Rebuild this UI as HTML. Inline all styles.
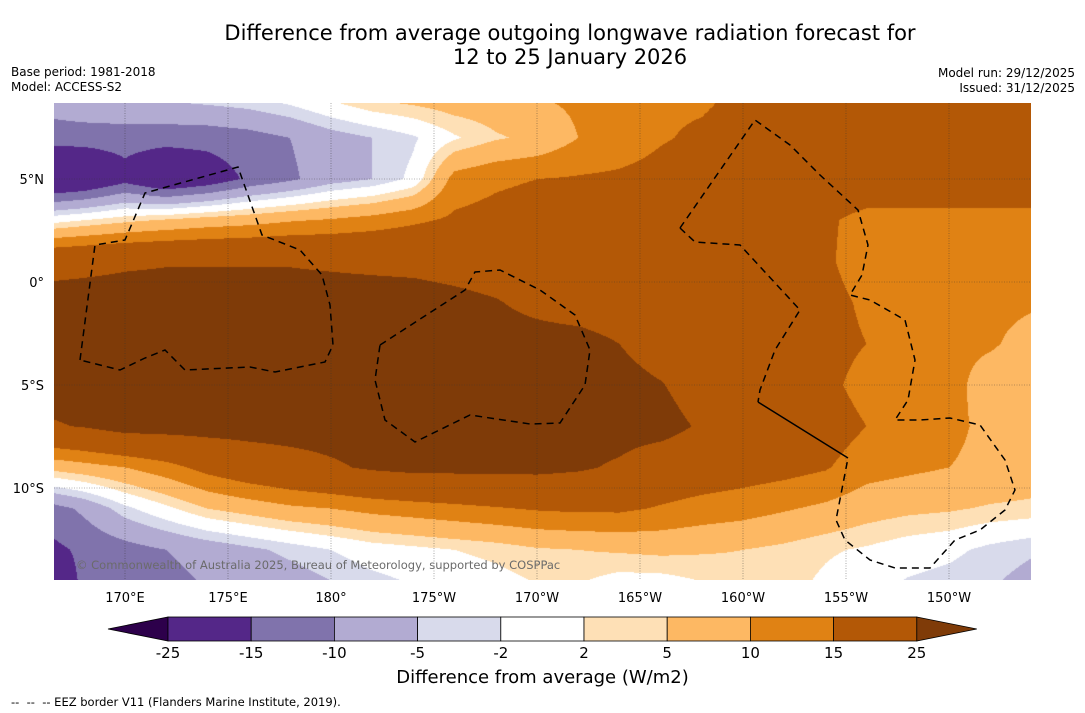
<!DOCTYPE html>
<html><head><meta charset="utf-8">
<style>
body{margin:0;background:#fff;font-family:"DejaVu Sans","Liberation Sans",sans-serif;}
#wrap{position:relative;width:1085px;height:713px;overflow:hidden;background:#fff;}
.t{position:absolute;white-space:pre;color:#000;}
</style></head>
<body>
<div id="wrap">
<div class="t" style="left:0;width:1140px;text-align:center;top:21px;font-size:21px;line-height:24px;">Difference from average outgoing longwave radiation forecast for<br>12 to 25 January 2026</div>
<div class="t" style="left:11px;top:65px;font-size:12px;line-height:15px;">Base period: 1981-2018<br>Model: ACCESS-S2</div>
<div class="t" style="right:10px;top:66px;font-size:12px;line-height:15px;text-align:right;">Model run: 29/12/2025<br>Issued: 31/12/2025</div>
<canvas id="map" width="977" height="477" style="position:absolute;left:54px;top:103px;"></canvas>
<svg id="ov" width="1085" height="713" style="position:absolute;left:0;top:0;"></svg>
<div class="t" style="left:76px;top:558px;font-size:11.5px;color:#6b6b6b;">© Commonwealth of Australia 2025, Bureau of Meteorology, supported by COSPPac</div>
<div class="t" style="left:0;width:1085px;text-align:center;top:667px;font-size:18px;">Difference from average (W/m2)</div>
<div class="t" style="left:11px;top:695px;font-size:11.5px;">--  --  -- EEZ border V11 (Flanders Marine Institute, 2019).</div>
</div>
<script>
// ---- data (W/m2 anomaly on 2-degree grid) ----
const lons = [166,168,170,172,174,176,178,180,182,184,186,188,190,192,194,196,198,200,202,204,206,208,210,212,214];
const lats = [9,7,5,3,1,-1,-3,-5,-7,-9,-11,-13,-15];
const row_lat9  = [-7,-5,-4,-4,-3,-2,0,3,6,7,8,8,10,11,13,14,14,16,17,18,18,18,18,18,18];
const row_lat7  = [-13,-13,-13,-13,-13,-12,-10,-7,-5,-2.5,1.5,4.5,6,10,12,14.5,16,18,18,18,18,18,18,18,18];
const row_lat5  = [-24,-22,-17,-22,-19,-14,-11,-7,-5,-1,12,14,15,15.5,16,17,18,19,20,20,20,20,20,20,20];
const row_lat3  = [0,2,4,5.5,7,8,9.5,10.5,12,14,16,17,18,18,18,18,18,18,18,16,13,13,13,13,13];
const row_lat1  = [22,23,24,24.5,24.5,24.5,24.5,24,23.5,23,22,21,20,19,19,19,19,19,18,16,12,12,12,12,12];
const row_latm1 = [28,28,28,28,28,28,28,28,28,28,27,25.5,23,21,20,19,19,19,18,17,14,12,12,11,10.5];
const row_latm3 = [28,28,28,28,28,28,28,28,28,28,28,28,28,28,25,21,20,19,18,17,15,12,11,10.5,8.5];
const row_latm5 = [28,28,28,28,28,28,28,28,28,28,28,28,28,28,28,25.5,21,19,18,16.5,13,12,11.5,8,7];
const row_latm7 = [24,25.5,28,28,28,28,28,28,28,28,28,28,28,28,28,28,24,20,19,18,15,12,11,9,7];
const row_latm9 = [6,8,10,13,17,20,22,24,26,27,27,27,27,26,24,20,19,18,17,15.5,12,11,10,9,8];
const row_latm11= [-13,-9,-3,1,5,7,9,10,11.5,12.5,13.5,14.5,15.5,16,16,14.5,13,12,10.5,9,7,6,5.5,4.5,4];
const row_latm13= [-17,-14,-12,-10,-8,-6,-4,-2,0,1,2,3,4.5,5,5.5,6,5.5,5,4,2.5,1.5,0,-1,-3,-4.5];
const row_latm15= [-22,-14,-13,-12,-10,-9,-8,-6,-4,-2.5,-1,0,1.5,1.5,-1,-1,1,3,3,1,-1,-3,-4,-5,-7];
const levels = [-25,-15,-10,-5,-2,2,5,10,15,25];
const levelLabels = ["-25","-15","-10","-5","-2","2","5","10","15","25"];
const colors = ["#2d004b","#542788","#8073ac","#b2abd2","#d8daeb","#ffffff","#fee0b6","#fdb863","#e08214","#b35806","#7f3b08"];
const lonTicks = [170,175,180,185,190,195,200,205,210];
const lonTickLabels = ["170°E","175°E","180°","175°W","170°W","165°W","160°W","155°W","150°W"];
const latTicks = [5,0,-5,-10];
const latTickLabels = ["5°N","0°","5°S","10°S"];

const rows = [row_lat9,row_lat7,row_lat5,row_lat3,row_lat1,row_latm1,row_latm3,row_latm5,row_latm7,row_latm9,row_latm11,row_latm13,row_latm15];

// axis functions
const PX = 20.6;
function xScale(lon){return 125+(lon-170)*PX;}
function yScale(lat){return 282-lat*PX;}
function xInv(x){return 170+(x-125)/PX;}
function yInv(y){return (282-y)/PX;}

// draw field
const cv=document.getElementById('map');const ctx=cv.getContext('2d');
const img=ctx.createImageData(977,477);
function hex(c){return [parseInt(c.substr(1,2),16),parseInt(c.substr(3,2),16),parseInt(c.substr(5,2),16)];}
const rgb=colors.map(hex);
const dLon=lons[1]-lons[0], dLat=lats[0]-lats[1];
for(let py=0;py<477;py++){
  const lat=yInv(py+103.5);
  let fy=(lats[0]-lat)/dLat; let j=Math.min(Math.max(Math.floor(fy),0),lats.length-2); let ty=fy-j;
  for(let px=0;px<977;px++){
    const lon=xInv(px+54.5);
    let fx=(lon-lons[0])/dLon; let i=Math.min(Math.max(Math.floor(fx),0),lons.length-2); let tx=fx-i;
    const v=(1-ty)*((1-tx)*rows[j][i]+tx*rows[j][i+1])+ty*((1-tx)*rows[j+1][i]+tx*rows[j+1][i+1]);
    let k=0;while(k<levels.length&&v>=levels[k])k++;
    const c=rgb[k];const o=(py*977+px)*4;
    img.data[o]=c[0];img.data[o+1]=c[1];img.data[o+2]=c[2];img.data[o+3]=255;
  }
}
ctx.putImageData(img,0,0);

// overlay
const NS="http://www.w3.org/2000/svg";const ov=document.getElementById('ov');
const FF='DejaVu Sans, Liberation Sans, sans-serif';
function mk(tag,attrs){const e=document.createElementNS(NS,tag);for(const k in attrs)e.setAttribute(k,attrs[k]);ov.appendChild(e);return e;}
lonTicks.forEach((lon,i)=>{
  const x=xScale(lon);
  const g=mk('line',{x1:x,y1:103,x2:x,y2:580,stroke:'#333','stroke-width':0.6,'stroke-dasharray':'1,1.5','stroke-opacity':0.7});
  
  
  const t=mk('text',{x:x,y:602,'text-anchor':'middle','font-size':13,'font-family':FF});
  t.textContent=lonTickLabels[i];
  
  
});
latTicks.forEach((lat,i)=>{
  const y=yScale(lat);
  const g=mk('line',{x1:54,y1:y,x2:1031,y2:y,stroke:'#333','stroke-width':0.6,'stroke-dasharray':'1,1.5','stroke-opacity':0.7});
  
  
  const t=mk('text',{x:44,y:y+5,'text-anchor':'end','font-size':13,'font-family':FF});
  t.textContent=latTickLabels[i];
  
  
});
// EEZ borders (decorative)
const eez=["M80,360 L95,245 L125,240 L145,193 L238,167 L262,235 L300,250 L322,275 L330,305 L333,345 L325,362 L275,372 L250,367 L185,370 L165,350 L145,358 L120,370 Z",
"M380,345 L465,290 L475,272 L500,270 L540,290 L575,315 L590,350 L585,385 L560,423 L530,424 L470,415 L415,442 L385,420 L375,380 Z",
"M680,228 L755,120 L790,145 L820,175 L858,210 L868,245 L862,275 L850,295 L870,300 L905,320 L915,360 L908,400 L895,420 L920,420 L950,418 L980,425 L1005,460 L1015,490 L1005,510 L980,530 L955,540 L930,568 L895,568 L870,560 L845,540 L836,520 L848,458",
"M680,228 L695,242 L740,245 L800,310 L775,350 L760,390 L758,402"];
eez.forEach(d=>{const p=mk('path',{d:d,fill:'none',stroke:'#000','stroke-width':1.5,'stroke-dasharray':'7,5'});
  
  });
const sl=mk('path',{d:'M758,402 L848,458',fill:'none',stroke:'#000','stroke-width':1.5});



// colorbar
const cbX0=168, cbW=83.2, cbY=617, cbH=24;
const lt=mk('polygon',{points:`108,${cbY+cbH/2} ${cbX0},${cbY} ${cbX0},${cbY+cbH}`,fill:colors[0],stroke:'#000','stroke-width':0.8});


for(let i=0;i<levels.length-1;i++){
  const r=mk('rect',{x:cbX0+i*cbW,y:cbY,width:cbW,height:cbH,fill:colors[i+1],stroke:'#000','stroke-width':0.8});
  
  
}
const xe=cbX0+(levels.length-1)*cbW;
const rt=mk('polygon',{points:`${xe},${cbY} ${xe+60},${cbY+cbH/2} ${xe},${cbY+cbH}`,fill:colors[colors.length-1],stroke:'#000','stroke-width':0.8});


levelLabels.forEach((s,i)=>{
  const t=mk('text',{x:cbX0+i*cbW,y:658,'text-anchor':'middle','font-size':15,'font-family':FF});
  t.textContent=s;
  
  
});
</script>
</body></html>
